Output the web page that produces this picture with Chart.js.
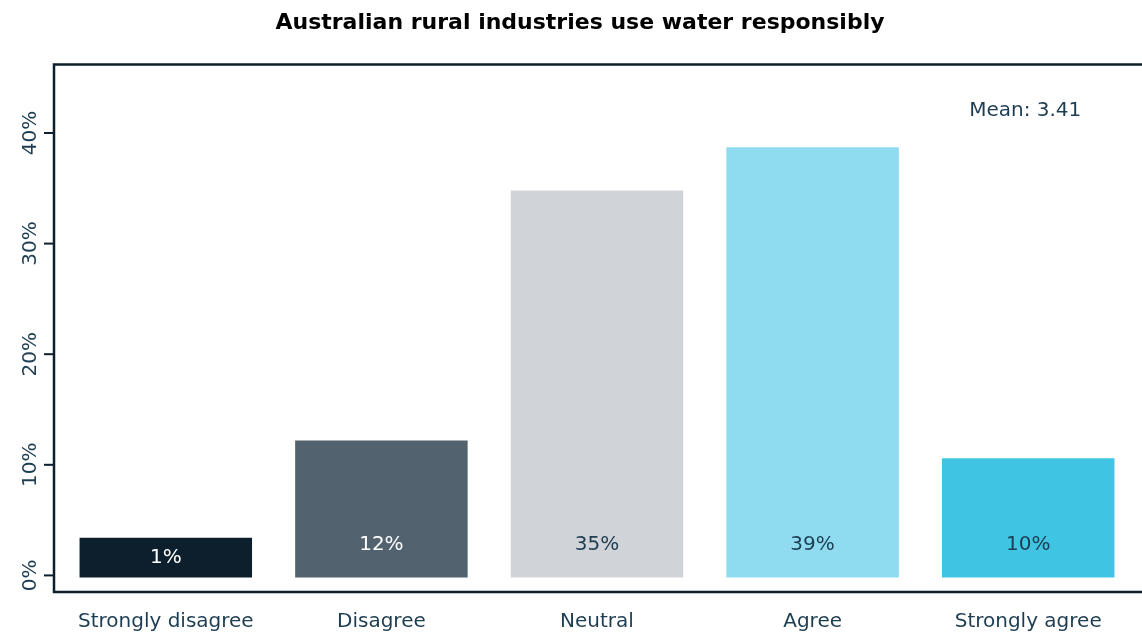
<!DOCTYPE html>
<html>
<head>
<meta charset="utf-8">
<script src="https://cdn.jsdelivr.net/npm/chart.js@4/dist/chart.umd.min.js"></script>
<style>
    html, body { margin: 0; padding: 0; background: #fff; }
    #wrap { width: 1142px; height: 633px; }
</style>
</head>
<body>
<div id="wrap"><canvas id="waterChart"></canvas></div>
<script>
const categories = ['Strongly disagree', 'Disagree', 'Neutral', 'Agree', 'Strongly agree'];
const shares = [3.4, 12.2, 34.8, 38.7, 10.6];
const shareLabels = ['1%', '12%', '35%', '39%', '10%'];
const yTicks = [0, 10, 20, 30, 40];
const meanText = 'Mean: 3.41';

const barColors = ['#0d1f2d', '#52626e', '#d0d3d7', '#8fdcf0', '#40c4e3'];
const labelColors = ['#ffffff', '#ffffff', '#1d3d52', '#1d3d52', '#1d3d52'];
const inkColor = '#1d3d52';
const frameColor = '#0d1f2d';
const fontFamily = '"DejaVu Sans", sans-serif';

// frame, rotated y labels, bar labels and mean note
const decorPlugin = {
    id: 'decor',
    afterDatasetsDraw(chart) {
        const ctx = chart.ctx;
        const area = chart.chartArea;
        const x = chart.scales.x;
        const y = chart.scales.y;
        const frameLeft = area.left - 4;

        ctx.save();
        ctx.strokeStyle = frameColor;
        ctx.lineWidth = 2.5;
        ctx.beginPath();
        ctx.moveTo(chart.width, area.top);
        ctx.lineTo(frameLeft, area.top);
        ctx.lineTo(frameLeft, area.bottom);
        ctx.lineTo(chart.width, area.bottom);
        ctx.stroke();

        ctx.lineWidth = 2;
        ctx.fillStyle = inkColor;
        ctx.font = '20px ' + fontFamily;
        ctx.textAlign = 'center';
        ctx.textBaseline = 'middle';
        yTicks.forEach(v => {
            const py = y.getPixelForValue(v);
            ctx.beginPath();
            ctx.moveTo(frameLeft - 10, py);
            ctx.lineTo(frameLeft, py);
            ctx.stroke();
            ctx.save();
            ctx.translate(frameLeft - 23, py);
            ctx.rotate(-Math.PI / 2);
            ctx.fillText(v + '%', 0, 0);
            ctx.restore();
        });

        const meta = chart.getDatasetMeta(0);
        const zeroY = y.getPixelForValue(0);
        meta.data.forEach((bar, i) => {
            const ly = Math.max((bar.y + bar.base) / 2, zeroY - 31);
            ctx.fillStyle = labelColors[i];
            ctx.fillText(shareLabels[i], bar.x, ly);
        });

        ctx.fillStyle = inkColor;
        ctx.fillText(meanText, x.getPixelForValue(4) - 3, y.getPixelForValue(42));
        ctx.restore();
    }
};

const waterCtx = document.getElementById('waterChart').getContext('2d');
const waterChart = new Chart(waterCtx, {
    type: 'bar',
    data: {
        labels: categories,
        datasets: [{
            data: shares,
            backgroundColor: barColors,
            base: -0.2,
            barPercentage: 0.8,
            categoryPercentage: 1.0
        }]
    },
    options: {
        responsive: true,
        maintainAspectRatio: false,
        animation: false,
        layout: {
            padding: { left: 24, right: 6, top: 0, bottom: 0 }
        },
        plugins: {
            legend: { display: false },
            tooltip: { enabled: false },
            title: {
                display: true,
                text: 'Australian rural industries use water responsibly',
                color: '#000000',
                font: { family: fontFamily, size: 22, weight: 'bold', lineHeight: 1.2 },
                padding: { top: 10, bottom: 28 }
            }
        },
        scales: {
            x: {
                grid: { display: false },
                border: { display: false },
                ticks: {
                    color: inkColor,
                    font: { family: fontFamily, size: 20 },
                    padding: 10,
                    maxRotation: 0
                },
                afterFit(scale) {
                    scale.height = 41;
                }
            },
            y: {
                min: -1.5,
                max: 46.2,
                grid: { display: false },
                border: { display: false },
                ticks: { display: false },
                afterFit(scale) {
                    scale.width = 34;
                }
            }
        }
    },
    plugins: [decorPlugin]
});
</script>
</body>
</html>
